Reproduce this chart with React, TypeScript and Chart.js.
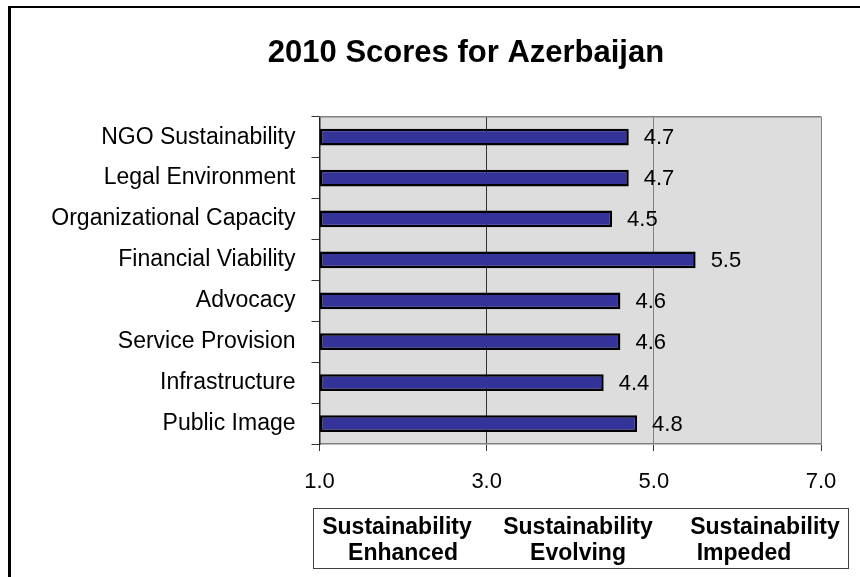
import { useEffect, useRef } from 'react';
import { Chart, registerables } from 'chart.js';

Chart.register(...registerables);

const categories = [
  'NGO Sustainability',
  'Legal Environment',
  'Organizational Capacity',
  'Financial Viability',
  'Advocacy',
  'Service Provision',
  'Infrastructure',
  'Public Image',
];
const scores = [4.7, 4.7, 4.5, 5.5, 4.6, 4.6, 4.4, 4.8];
const xTicks = [1, 3, 5, 7];
const chartTitle = '2010 Scores for Azerbaijan';
const bandTop = ['Sustainability', 'Sustainability', 'Sustainability'];
const bandBottom = ['Enhanced', 'Evolving', 'Impeded'];

const FONT = "'Liberation Sans', Arial, Helvetica, sans-serif";

const decorPlugin = {
  id: 'decor',
  afterLayout(chart: any) {
    // centre the title over the visible block the way the original does
    if (chart.titleBlock) {
      chart.titleBlock.left = 111;
    }
  },
  beforeDraw(chart: any) {
    const { ctx, chartArea: a, width, height } = chart;
    ctx.save();
    ctx.fillStyle = '#ffffff';
    ctx.fillRect(0, 0, width, height);
    ctx.fillStyle = '#000000';
    ctx.fillRect(8, 6, 3, height - 6);
    ctx.fillRect(8, 6, width - 8, 2);
    ctx.fillStyle = '#dddddd';
    ctx.fillRect(a.left, a.top, a.right - a.left, a.bottom - a.top);
    ctx.restore();
  },
  afterDatasetsDraw(chart: any) {
    const { ctx, chartArea: a } = chart;
    ctx.save();
    ctx.strokeStyle = '#808080';
    ctx.lineWidth = 1.5;
    ctx.beginPath();
    ctx.moveTo(a.left, a.top);
    ctx.lineTo(a.right, a.top);
    ctx.stroke();
    ctx.fillStyle = '#000';
    ctx.font = `22px ${FONT}`;
    ctx.textAlign = 'left';
    ctx.textBaseline = 'middle';
    const meta = chart.getDatasetMeta(0);
    meta.data.forEach((el: any, i: number) => {
      ctx.fillText(scores[i].toFixed(1), el.x + 15, el.y + 1);
    });
    ctx.restore();
  },
  afterDraw(chart: any) {
    const { ctx } = chart;
    ctx.save();
    ctx.strokeStyle = '#404040';
    ctx.lineWidth = 1;
    ctx.strokeRect(313.5, 508.5, 535, 60);
    ctx.fillStyle = '#000';
    ctx.font = `bold 23px ${FONT}`;
    ctx.textAlign = 'center';
    ctx.textBaseline = 'alphabetic';
    const topX = [397, 578, 765];
    const botX = [403, 578, 744];
    bandTop.forEach((t, i) => ctx.fillText(t, topX[i], 534));
    bandBottom.forEach((t, i) => ctx.fillText(t, botX[i], 560));
    ctx.restore();
  },
};

export default function App() {
  const ref = useRef<HTMLCanvasElement | null>(null);
  useEffect(() => {
    if (!ref.current) return;
    const chart = new Chart(ref.current, {
      type: 'bar',
      data: {
        labels: categories,
        datasets: [
          {
            data: scores,
            base: 1,
            backgroundColor: '#333399',
            borderColor: '#000000',
            borderWidth: 2.5,
            borderSkipped: false,
            categoryPercentage: 1,
            barPercentage: 0.41,
          } as any,
        ],
      },
      options: {
        indexAxis: 'y',
        animation: false,
        responsive: true,
        maintainAspectRatio: false,
        layout: { padding: { left: 0, right: 39, top: 0, bottom: 81 } },
        plugins: {
          legend: { display: false },
          tooltip: { enabled: false },
          title: {
            display: true,
            text: chartTitle,
            color: '#000',
            font: { family: FONT, size: 31, weight: 'bold' },
            padding: { top: 35, bottom: 44.5 },
          },
        },
        scales: {
          x: {
            type: 'linear',
            min: 1,
            max: 7,
            afterBuildTicks: (s: any) => {
              s.ticks = xTicks.map((v) => ({ value: v }));
            },
            ticks: {
              callback: (v: any) => Number(v).toFixed(1),
              font: { family: FONT, size: 22 },
              color: '#000',
              padding: 18,
              maxRotation: 0,
            },
            grid: {
              color: (c: any) => (c.tick && c.tick.value === 3 ? '#333333' : '#808080'),
              lineWidth: 1,
              tickLength: 7,
              tickColor: '#333333',
            },
            border: { display: true, color: '#808080', width: 1.5 },
            afterFit: (s: any) => {
              s.height = 52;
            },
          },
          y: {
            type: 'category',
            offset: true,
            grid: {
              offset: true,
              drawOnChartArea: false,
              tickLength: 8,
              tickColor: '#333333',
              lineWidth: 1,
            },
            border: { display: true, color: '#222222', width: 1.5 },
            ticks: {
              font: { family: FONT, size: 23 },
              color: '#000',
              padding: 16,
              autoSkip: false,
            },
            afterFit: (s: any) => {
              s.width = 319.5;
            },
          },
        },
      } as any,
      plugins: [decorPlugin],
    });
    return () => chart.destroy();
  }, []);
  return (
    <div style={{ position: 'absolute', left: 0, top: 0, width: 860, height: 577 }}>
      <canvas ref={ref} />
    </div>
  );
}
